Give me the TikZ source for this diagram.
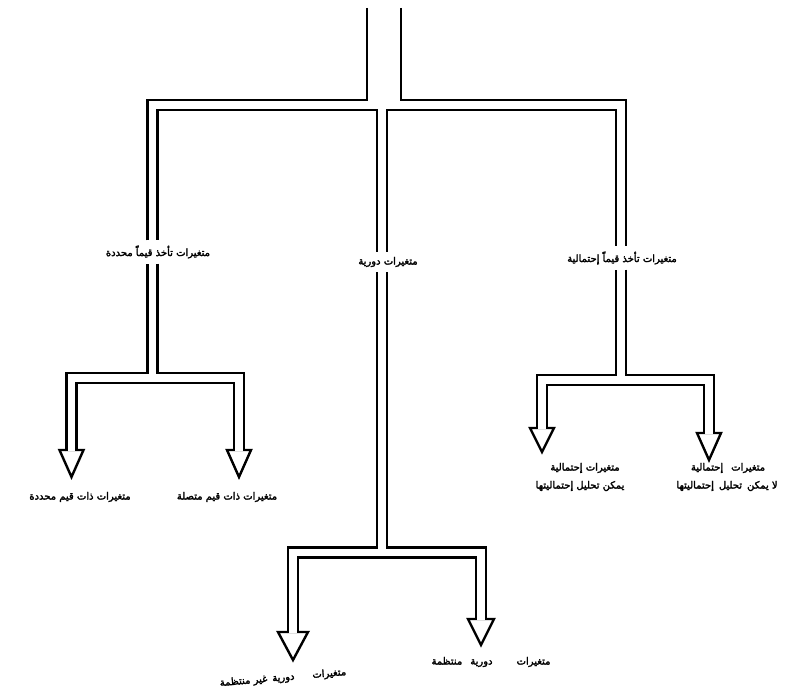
\documentclass[tikz,border=0pt]{standalone}
\usepackage{fontspec}
\newfontfamily\arabicfont[Script=Arabic,FakeBold=2.5]{DejaVu Sans}
\TeXXeTstate=1
\newcommand{\artxt}[1]{\beginR #1\endR}
\newcommand{\hhead}[3]{\path[head] (#1) ++(-#2,0) -- ++(#2,#3) -- ++(#2,-#3) -- cycle;}
\begin{document}
\begin{tikzpicture}[x=1pt,y=-1pt,
  pipe/.style={draw=black,line width=2.6pt,double=white,double distance=7.3pt,line join=miter},
  wall/.style={draw=black,line width=2.6pt},
  head/.style={draw=black,fill=white,line width=2.4pt,line join=miter},
  lbl/.style={font=\arabicfont\fontsize{10}{14}\selectfont,inner sep=5pt,align=center}]
\useasboundingbox (0,0) rectangle (792,695);
% labels
\node[lbl] (L) at (158,252) {\artxt{متغيرات تأخذ قيماً محددة}};
\node[lbl] (M) at (388,262) {\artxt{متغيرات دورية}};
\node[lbl] (R) at (622,258) {\artxt{متغيرات تأخذ قيماً إحتمالية}};
\node[lbl] (LL) at (80,497) {\artxt{متغيرات ذات قيم محددة}};
\node[lbl] (LR) at (227,497) {\artxt{متغيرات ذات قيم متصلة}};
\node[lbl] (RL1) at (585,468) {\artxt{متغيرات إحتمالية}};
\node[lbl] (RL2) at (580,486) {\artxt{يمكن تحليل إحتماليتها}};
\node[lbl] (RR1) at (728,468) {\artxt{متغيرات\hspace{8pt}إحتمالية}};
\node[lbl] (RR2) at (727,486) {\artxt{لا يمكن\hspace{5pt}تحليل\hspace{5pt}إحتماليتها}};
\node[lbl,rotate=5] (ML) at (283,678) {\artxt{متغيرات\hspace{18pt}دورية\hspace{5pt}غير منتظمة}};
\node[lbl] (MR) at (491,662) {\artxt{متغيرات\hspace{24pt}دورية\hspace{8pt}منتظمة}};
% junction coordinates
\coordinate (Lx) at (152.5,105);
\coordinate (Mx) at (382,105);
\coordinate (Rx) at (621,105);
\coordinate (Lh) at (152.5,378);
\coordinate (LA) at (71.5,378);
\coordinate (LB) at (239,378);
\coordinate (LAb) at (71.5,450);
\coordinate (LBb) at (239,450);
\coordinate (LAe) at (71.5,451.4);
\coordinate (LBe) at (239,451.4);
\coordinate (Rh) at (621,380);
\coordinate (RA) at (542,380);
\coordinate (RB) at (709,380);
\coordinate (RAb) at (542,428);
\coordinate (RBb) at (709,433);
\coordinate (RAe) at (542,429.4);
\coordinate (RBe) at (709,434.4);
\coordinate (Mh) at (382,552.5);
\coordinate (MA) at (293,552.5);
\coordinate (MB) at (481,552.5);
\coordinate (MAb) at (293,632);
\coordinate (MBb) at (481,619);
\coordinate (MAe) at (293,633.4);
\coordinate (MBe) at (481,620.4);
\coordinate (T1a) at (367,8);
\coordinate (T1b) at (367,101.3);
\coordinate (T2a) at (401,8);
\coordinate (T2b) at (401,101.3);
% hollow arrow heads
\hhead{LAb}{12}{27}
\hhead{LBb}{12}{27}
\hhead{RAb}{12}{24}
\hhead{RBb}{12}{27}
\hhead{MAb}{15}{28}
\hhead{MBb}{13}{26}
% top level pipes
\path[pipe] (Lx |- L.north) -- (Lx) -- (Rx) -- (Rx |- R.north)
            (Mx) -- (Mx |- M.north);
% left subtree
\path[pipe] (Lx |- L.south) -- (Lh)
            (LAe) -- (LA) -- (LB) -- (LBe);
% right subtree
\path[pipe] (Rx |- R.south) -- (Rh)
            (RAe) -- (RA) -- (RB) -- (RBe);
% middle subtree
\path[pipe] (Mx |- M.south) -- (Mh)
            (MAe) -- (MA) -- (MB) -- (MBe);
% trunk opening into the top pipe
\fill[white] (368.4,98.4) rectangle (399.6,101.7);
\draw[wall] (T1a) -- (T1b);
\draw[wall] (T2a) -- (T2b);
\end{tikzpicture}
\end{document}
